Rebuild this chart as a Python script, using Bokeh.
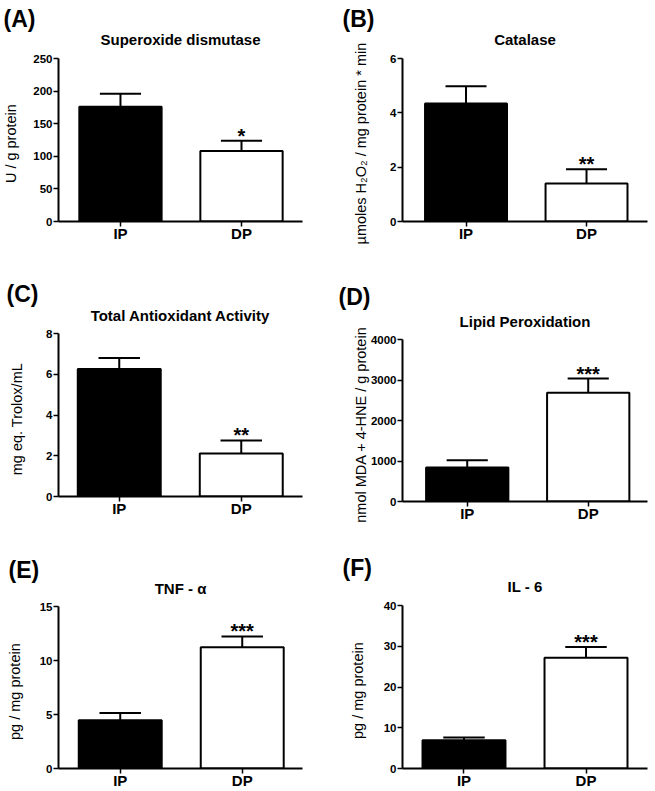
from bokeh.plotting import figure
from bokeh.models import Range1d, FixedTicker, Title
from bokeh.layouts import row, column
from bokeh.embed import file_html
from bokeh.resources import INLINE
from bokeh.core.properties import value

# ---------------- data ----------------
groups = ["IP", "DP"]
group_pos = [1, 2]
bar_colors = ["black", "white"]

sod_mean = [176, 108]
sod_sem = [20, 16]
sod_sig = ["", "*"]
sod_ticks = [0, 50, 100, 150, 200, 250]

cat_mean = [4.34, 1.40]
cat_sem = [0.64, 0.52]
cat_sig = ["", "**"]
cat_ticks = [0, 2, 4, 6]

tac_mean = [6.26, 2.11]
tac_sem = [0.54, 0.64]
tac_sig = ["", "**"]
tac_ticks = [0, 2, 4, 6, 8]

lpo_mean = [840, 2683]
lpo_sem = [180, 354]
lpo_sig = ["", "***"]
lpo_ticks = [0, 1000, 2000, 3000, 4000]

tnf_mean = [4.46, 11.22]
tnf_sem = [0.67, 1.01]
tnf_sig = ["", "***"]
tnf_ticks = [0, 5, 10, 15]

il6_mean = [6.94, 27.2]
il6_sem = [0.66, 2.6]
il6_sig = ["", "***"]
il6_ticks = [0, 10, 20, 30, 40]

FONT = "Liberation Sans"
LETTER_SIZE = 23
PAD = "\u00a0" * 8   # keeps the rotated axis label centred on the value axis


def panel(letter, title, ylabel, means, sems, sig, yticks,
          fig, frame, xr, title_c, letter_x, letter_c, ylab_standoff):
    x0, y0, w, h = fig
    left, right, top_px, bottom = frame
    frame_top = title_c - 6
    bl = left - x0
    br = x0 + w - right
    bt = frame_top - y0
    bb = y0 + h - bottom
    ymax = yticks[-1]
    y_end = ymax * (bottom - frame_top) / (bottom - top_px)

    p = figure(width=w, height=h, output_backend="svg",
               toolbar_location=None, title=None,
               x_range=Range1d(*xr), y_range=Range1d(yticks[0], y_end),
               min_border_left=bl, min_border_right=br,
               min_border_top=bt, min_border_bottom=bb)
    p.outline_line_color = None
    p.xgrid.visible = False
    p.ygrid.visible = False
    p.background_fill_color = "white"
    p.border_fill_color = "white"

    p.vbar(x=group_pos, top=means, width=0.68, fill_color=bar_colors,
           line_color="black", line_width=2)
    tops = [m + s for m, s in zip(means, sems)]
    p.segment(x0=group_pos, y0=means, x1=group_pos, y1=tops,
              line_color="black", line_width=2)
    p.segment(x0=[x - 0.17 for x in group_pos], y0=tops,
              x1=[x + 0.17 for x in group_pos], y1=tops,
              line_color="black", line_width=2)
    p.text(x=group_pos, y=tops, text=sig, text_font=value(FONT),
           text_font_size="20px", text_font_style="bold",
           text_align="center", text_baseline="middle",
           y_offset=-5, text_color="black")

    # panel title, centred over the plotting area
    p.text(x=[(xr[0] + xr[1]) / 2], y=[ymax], text=[title],
           text_font=value(FONT), text_font_size="15px",
           text_font_style="bold", text_align="center",
           text_baseline="middle", y_offset=-(top_px - title_c),
           text_color="black")

    for ax in (p.xaxis[0], p.yaxis[0]):
        ax.axis_line_width = 2
        ax.axis_line_color = "black"
        ax.major_tick_line_width = 1.5
        ax.major_tick_line_color = "black"
        ax.major_tick_out = 5
        ax.major_tick_in = 0
        ax.minor_tick_line_color = None
        ax.major_label_text_font = FONT
        ax.major_label_text_font_style = "bold"
        ax.major_label_text_color = "black"

    p.xaxis.ticker = FixedTicker(ticks=group_pos)
    p.xaxis.major_label_overrides = {x: g for x, g in zip(group_pos, groups)}
    p.xaxis.major_label_text_font_size = "15px"
    p.xaxis.major_label_standoff = -2

    p.yaxis.ticker = FixedTicker(ticks=yticks)
    p.yaxis.bounds = (yticks[0], ymax)
    p.yaxis.major_label_text_font_size = "11.5px"
    p.yaxis.major_label_standoff = 1
    p.yaxis.axis_label = ylabel + PAD
    p.yaxis.axis_label_text_font = FONT
    p.yaxis.axis_label_text_font_size = "14.5px"
    p.yaxis.axis_label_text_font_style = "normal"
    p.yaxis.axis_label_text_color = "black"
    p.yaxis.axis_label_standoff = ylab_standoff

    box = 1.117 * LETTER_SIZE
    d = frame_top - letter_c
    s = d - box / 2
    s = min(s, bt - box - 3)
    s = max(0, int(round(s)))
    lt = Title(text=letter, align="left", offset=letter_x - left,
               text_font=FONT, text_font_size=f"{LETTER_SIZE}px",
               text_font_style="bold", text_color="black", standoff=s)
    p.add_layout(lt, "above")
    return p


pA = panel("(A)", "Superoxide dismutase", "U / g protein",
           sod_mean, sod_sem, sod_sig, sod_ticks,
           (0, 0, 328, 260), (58, 306, 58, 221), (0.488, 2.504),
           39, 3, 13, 11)
pC = panel("(C)", "Total Antioxidant Activity", "mg eq. Trolox/mL",
           tac_mean, tac_sem, tac_sig, tac_ticks,
           (0, 260, 328, 261), (55, 302, 333, 496), (0.502, 2.502),
           315, 3, 290, 18)
pE = panel("(E)", "TNF - α", "pg / mg protein",
           tnf_mean, tnf_sem, tnf_sig, tnf_ticks,
           (0, 521, 328, 270), (55, 302, 606, 768), (0.494, 2.494),
           588, 5, 570, 14)

pB = panel("(B)", "Catalase", "µmoles H₂O₂ / mg protein * min",
           cat_mean, cat_sem, cat_sig, cat_ticks,
           (328, 0, 327, 258), (398, 647, 58, 221), (0.473, 2.506),
           39, 338, 13, 18)
pD = panel("(D)", "Lipid Peroxidation", "nmol MDA + 4-HNE / g protein",
           lpo_mean, lpo_sem, lpo_sig, lpo_ticks,
           (328, 258, 327, 266), (402, 650, 339, 501), (0.465, 2.49),
           321, 338, 290, -1)
pF = panel("(F)", "IL - 6", "pg / mg protein",
           il6_mean, il6_sem, il6_sig, il6_ticks,
           (328, 524, 327, 267), (400, 647, 605, 768), (0.496, 2.504),
           586, 340, 570, 15)

layout = row(column(pA, pC, pE), column(pB, pD, pF))

open("out.html", "w").write(file_html(layout, INLINE))
